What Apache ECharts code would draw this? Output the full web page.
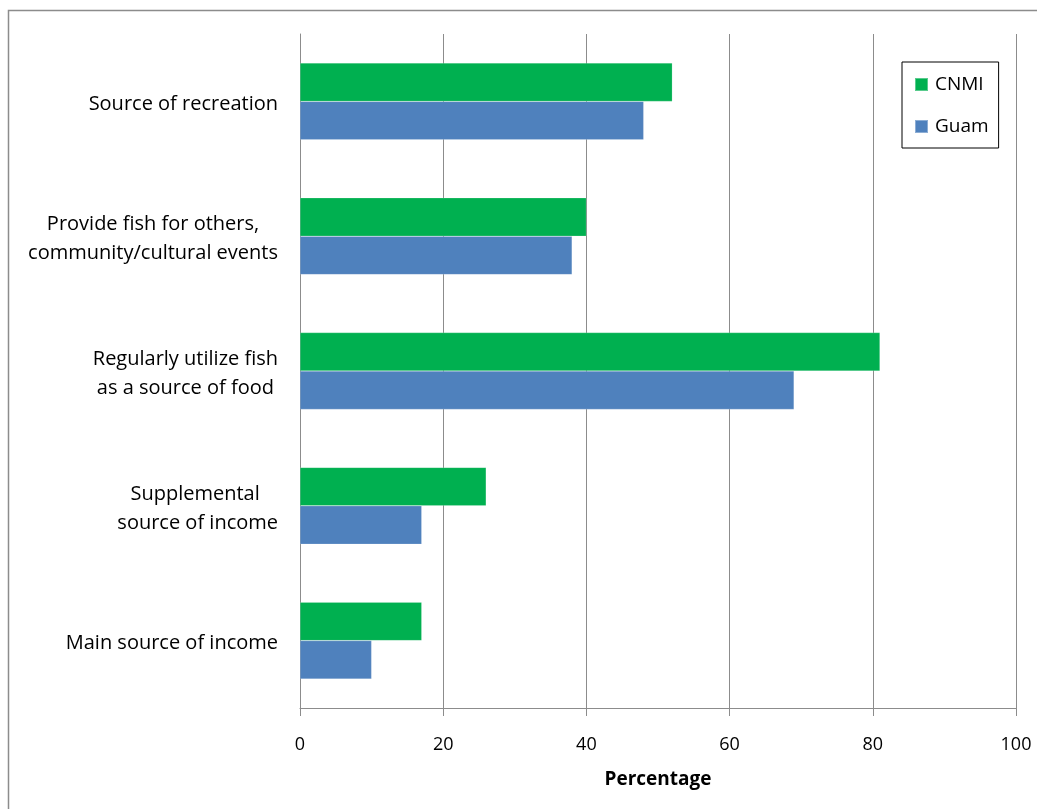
<!DOCTYPE html>
<html>
<head>
<meta charset="utf-8">
<script src="https://cdn.jsdelivr.net/npm/echarts@6/dist/echarts.min.js"></script>
<style>
html,body{margin:0;padding:0;background:#fff;}
#chart{width:1037px;height:809px;}
</style>
</head>
<body>
<div id="chart"></div>
<script>
const categories = [
  "Source of recreation",
  "Provide fish for others,\ncommunity/cultural events",
  "Regularly utilize fish\nas a source of food",
  "Supplemental \nsource of income",
  "Main source of income"
];
const cnmiValues = [52, 40, 81, 26, 17];
const guamValues = [48, 38, 69, 17, 10];
const xTicks = { min: 0, max: 100, interval: 20 };
const seriesNames = ["CNMI", "Guam"];

const FONT = "Open Sans";
const chart = echarts.init(document.getElementById('chart'));
chart.setOption({
  animation: false,
  backgroundColor: '#fff',
  textStyle: { fontFamily: FONT },
  graphic: [{
    type: 'rect',
    shape: { x: 8.5, y: 10.5, width: 1100, height: 900 },
    style: { fill: 'none', stroke: '#8c8c8c', lineWidth: 1.5 },
    silent: true
  }],
  grid: { left: 300, right: 21, top: 34, bottom: 101, containLabel: false },
  legend: {
    orient: 'vertical',
    left: 902,
    top: 62,
    padding: [13, 10, 12, 12],
    borderColor: '#000',
    borderWidth: 1,
    itemWidth: 13,
    itemHeight: 13,
    itemGap: 23,
    icon: 'rect',
    textStyle: { fontFamily: FONT, fontSize: 19, color: '#000', padding: [0, 0, 0, 2] },
    data: seriesNames
  },
  xAxis: {
    type: 'value',
    min: xTicks.min, max: xTicks.max, interval: xTicks.interval,
    name: 'Percentage',
    nameLocation: 'middle',
    nameGap: 62,
    nameTextStyle: { fontFamily: FONT, fontSize: 19, fontWeight: 'bold', color: '#000' },
    axisLine: { show: true, lineStyle: { color: '#8c8c8c', width: 1 } },
    axisTick: { show: true, length: 8, lineStyle: { color: '#8c8c8c' } },
    axisLabel: { margin: 28, fontFamily: FONT, fontSize: 18, color: '#000' },
    splitLine: { show: true, lineStyle: { color: '#8c8c8c', width: 1 } }
  },
  yAxis: {
    type: 'category',
    inverse: true,
    data: categories,
    axisLine: { show: true, lineStyle: { color: '#8c8c8c', width: 1 } },
    axisTick: { show: false },
    axisLabel: {
      margin: 22,
      color: '#000',
      fontFamily: FONT,
      fontSize: 20,
      padding: [5, 0, 0, 0],
      formatter: function (v) {
        return v.split('\n').map(function (l) { return '{c|' + l + '}'; }).join('\n');
      },
      rich: { c: { align: 'center', fontFamily: FONT, fontSize: 20, color: '#000', lineHeight: 29 } }
    }
  },
  series: [
    {
      name: seriesNames[0], type: 'bar', data: cnmiValues,
      itemStyle: { color: '#00B050', borderColor: 'rgba(255,255,255,0.35)', borderWidth: 0.5 },
      barGap: '0%', barCategoryGap: '43%'
    },
    {
      name: seriesNames[1], type: 'bar', data: guamValues,
      itemStyle: { color: '#4F81BD', borderColor: 'rgba(255,255,255,0.35)', borderWidth: 0.5 },
      barGap: '0%', barCategoryGap: '43%'
    }
  ]
});
</script>
</body>
</html>
